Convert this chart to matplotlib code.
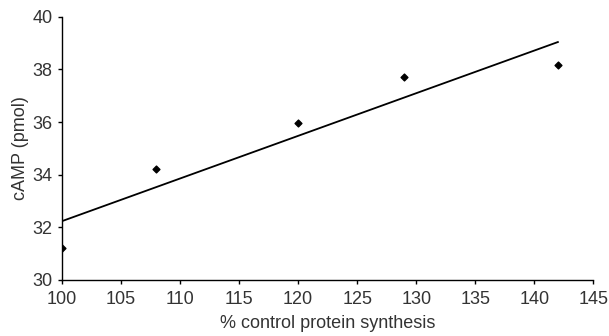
import numpy as np
import matplotlib
matplotlib.use("Agg")
import matplotlib.pyplot as plt

protein_synthesis = [100, 108, 120, 129, 142]
camp_pmol = [31.2, 34.2, 35.97, 37.7, 38.15]

plt.rcParams["font.family"] = ["Liberation Sans", "DejaVu Sans"]

fig = plt.figure(figsize=(6.09, 3.36), dpi=100)
ax = fig.add_axes([0.1018, 0.1667, 0.8724, 0.7833])

# least-squares trend line through the points
slope, intercept = np.polyfit(protein_synthesis, camp_pmol, 1)
x_fit = np.array([min(protein_synthesis), max(protein_synthesis)])
ax.plot(x_fit, slope * x_fit + intercept, color="black", linewidth=1.3)
ax.scatter(protein_synthesis, camp_pmol, marker="D", s=12, color="black", zorder=3)

ax.set_xlim(100, 145)
ax.set_ylim(30, 40)
ax.set_xticks(range(100, 146, 5))
ax.set_yticks(range(30, 41, 2))
ax.spines["top"].set_visible(False)
ax.spines["right"].set_visible(False)
for s in ("left", "bottom"):
    ax.spines[s].set_linewidth(1.0)
ax.tick_params(direction="out", length=3, width=1, labelsize=13, colors="black", labelcolor="#333333")
ax.tick_params(axis="x", pad=5)
ax.tick_params(axis="y", pad=4)
ax.set_xlabel("% control protein synthesis", fontsize=13, color="#333333", labelpad=5)
ax.set_ylabel("cAMP (pmol)", fontsize=13, color="#333333", labelpad=2)
ax.patch.set_visible(False)

fig.savefig("out.png", dpi=100)
